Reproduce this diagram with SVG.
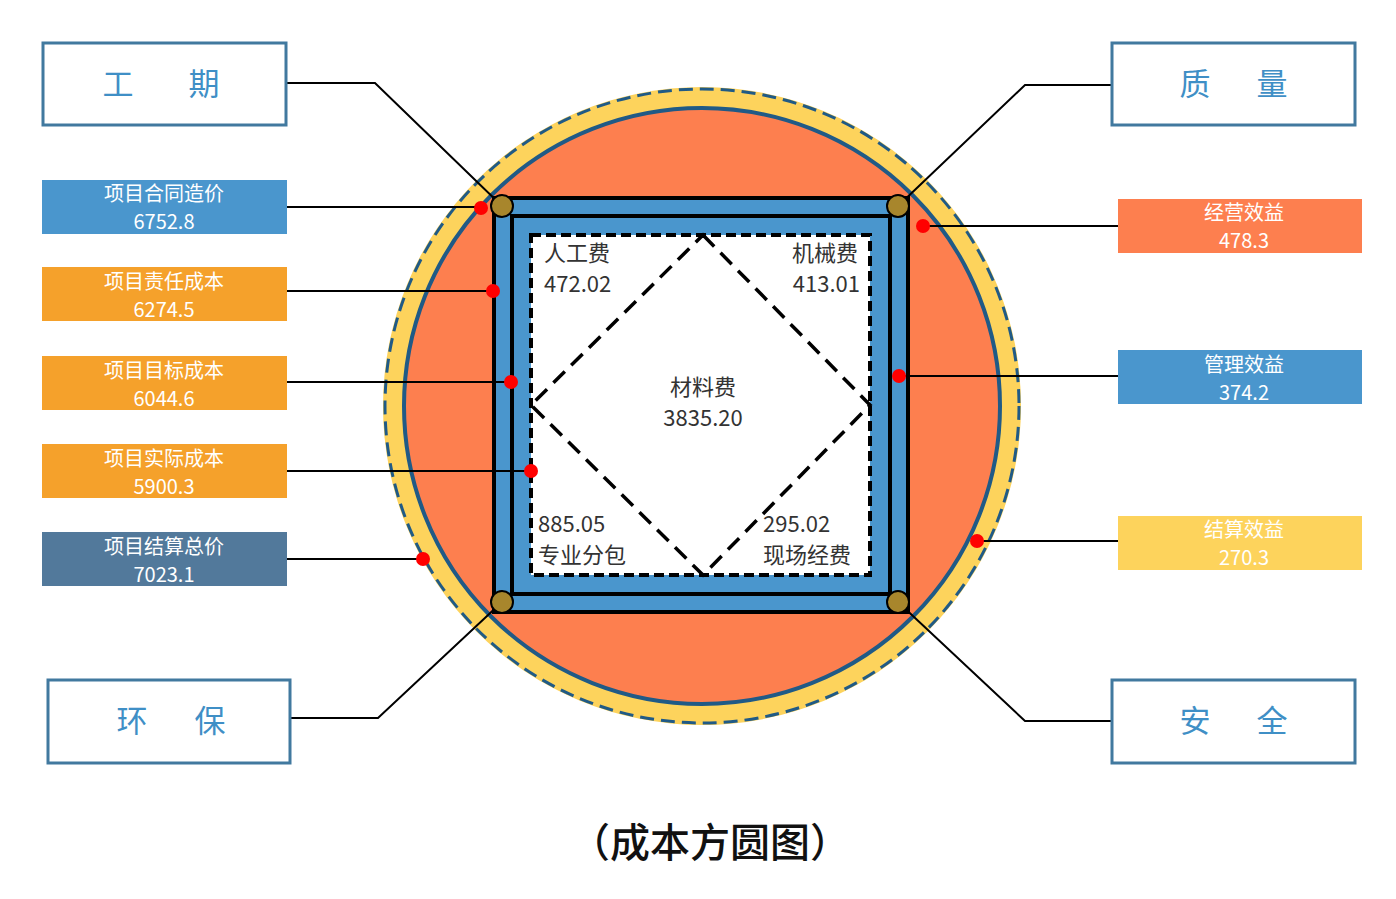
<svg xmlns="http://www.w3.org/2000/svg" width="1396" height="899" viewBox="0 0 1396 899">
<style>
text{font-family:"Noto Sans CJK SC","Noto Sans",sans-serif;}
.wb{fill:#fff;stroke:#41799f;stroke-width:3}
.wt{fill:#3f8fc6;font-size:31px;text-anchor:middle}
.ct{fill:#fff;font-size:20px;text-anchor:middle}
.it{fill:#333;font-size:22px}
.ln{fill:none;stroke:#000;stroke-width:2}
.rd{fill:#f00}
.cn{fill:#a8862c;stroke:#000;stroke-width:2}
</style>
<rect width="1396" height="899" fill="#fff"/>
<g id="circle">
<circle cx="702" cy="406" r="319" fill="#fdd35c"/>
<circle cx="702" cy="406" r="317" fill="none" stroke="#205a86" stroke-width="3" stroke-dasharray="14 7"/>
<circle cx="702" cy="406" r="298" fill="#fd7f4f" stroke="#205a86" stroke-width="4"/>
</g>
<g id="square">
<rect x="494" y="198" width="414" height="414" fill="#4a96cd" stroke="#000" stroke-width="4"/>
<rect x="512" y="216" width="378" height="378" fill="none" stroke="#000" stroke-width="4"/>
<rect x="531" y="235" width="339" height="340" fill="#fff" stroke="#000" stroke-width="4" stroke-dasharray="10 5"/>
<path d="M703 235 L870 405 L703 575 L531 405 Z" fill="none" stroke="#000" stroke-width="3.5" stroke-dasharray="16 9"/>
<text class="it" x="544" y="261">人工费</text>
<text class="it" x="544" y="292">472.02</text>
<text class="it" x="858" y="261" text-anchor="end">机械费</text>
<text class="it" x="860" y="292" text-anchor="end">413.01</text>
<text class="it" x="703" y="395" text-anchor="middle">材料费</text>
<text class="it" x="703" y="426" text-anchor="middle">3835.20</text>
<text class="it" x="538" y="532">885.05</text>
<text class="it" x="538" y="563">专业分包</text>
<text class="it" x="763" y="532">295.02</text>
<text class="it" x="763" y="563">现场经费</text>
</g>
<g id="connectors">
<path class="ln" d="M286 83 H375 L502 206"/>
<path class="ln" d="M290 718 H378 L502 602"/>
<path class="ln" d="M1112 85 H1025 L898 206"/>
<path class="ln" d="M1112 721 H1025 L898 602"/>
<path class="ln" d="M287 207 H481 M287 291 H493 M287 382 H511 M287 471 H531 M287 559 H423"/>
<path class="ln" d="M1118 226 H923 M1118 376 H899 M1118 541 H977"/>
</g>
<g id="corners">
<circle class="cn" cx="502" cy="206" r="11"/><circle class="cn" cx="898" cy="206" r="11"/>
<circle class="cn" cx="502" cy="602" r="11"/><circle class="cn" cx="898" cy="602" r="11"/>
</g>
<g id="dots">
<circle class="rd" cx="481" cy="208" r="7"/><circle class="rd" cx="493" cy="291" r="7"/>
<circle class="rd" cx="511" cy="382" r="7"/><circle class="rd" cx="531" cy="471" r="7"/>
<circle class="rd" cx="423" cy="559" r="7"/><circle class="rd" cx="923" cy="226" r="7"/>
<circle class="rd" cx="899" cy="376" r="7"/><circle class="rd" cx="977" cy="541" r="7"/>
</g>
<g id="gongqi"><rect class="wb" x="43" y="43" width="243" height="82"/><text class="wt" x="118" y="95">工</text><text class="wt" x="204" y="95">期</text></g>
<g id="huanbao"><rect class="wb" x="48" y="680" width="242" height="83"/><text class="wt" x="132" y="732">环</text><text class="wt" x="210" y="732">保</text></g>
<g id="zhiliang"><rect class="wb" x="1112" y="43" width="243" height="82"/><text class="wt" x="1195" y="95">质</text><text class="wt" x="1272" y="95">量</text></g>
<g id="anquan"><rect class="wb" x="1112" y="680" width="243" height="83"/><text class="wt" x="1195" y="732">安</text><text class="wt" x="1272" y="732">全</text></g>
<g id="b1"><rect x="42" y="180" width="245" height="54" fill="#4a96cd"/><text class="ct" x="164" y="201">项目合同造价</text><text class="ct" x="164" y="229">6752.8</text></g>
<g id="b2"><rect x="42" y="267" width="245" height="54" fill="#f5a12b"/><text class="ct" x="164" y="289">项目责任成本</text><text class="ct" x="164" y="317">6274.5</text></g>
<g id="b3"><rect x="42" y="356" width="245" height="54" fill="#f5a12b"/><text class="ct" x="164" y="378">项目目标成本</text><text class="ct" x="164" y="406">6044.6</text></g>
<g id="b4"><rect x="42" y="444" width="245" height="54" fill="#f5a12b"/><text class="ct" x="164" y="466">项目实际成本</text><text class="ct" x="164" y="494">5900.3</text></g>
<g id="b5"><rect x="42" y="532" width="245" height="54" fill="#52799b"/><text class="ct" x="164" y="554">项目结算总价</text><text class="ct" x="164" y="582">7023.1</text></g>
<g id="r1"><rect x="1118" y="199" width="244" height="54" fill="#fd7f4f"/><text class="ct" x="1244" y="220">经营效益</text><text class="ct" x="1244" y="248">478.3</text></g>
<g id="r2"><rect x="1118" y="350" width="244" height="54" fill="#4a96cd"/><text class="ct" x="1244" y="372">管理效益</text><text class="ct" x="1244" y="400">374.2</text></g>
<g id="r3"><rect x="1118" y="516" width="244" height="54" fill="#fdd35c"/><text class="ct" x="1244" y="537">结算效益</text><text class="ct" x="1244" y="565">270.3</text></g>
<text x="710" y="857" font-size="40" font-weight="500" text-anchor="middle" fill="#111">（成本方圆图）</text>
</svg>
